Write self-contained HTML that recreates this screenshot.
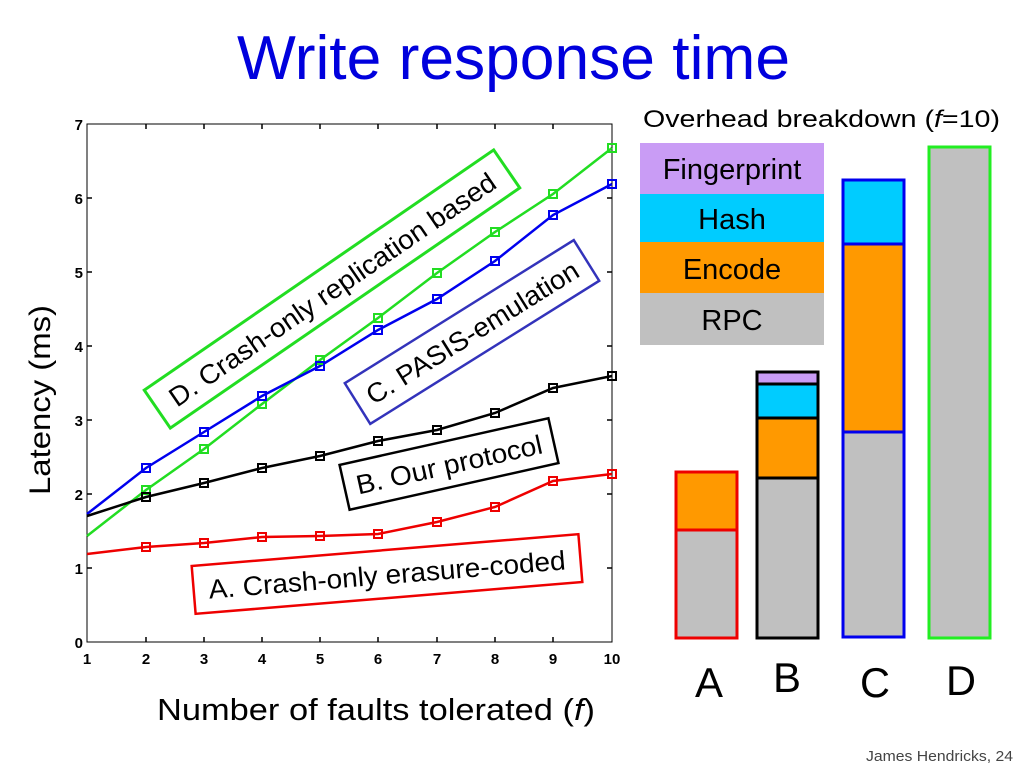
<!DOCTYPE html>
<html><head><meta charset="utf-8"><style>
html,body{margin:0;padding:0;background:#fff;}
svg{display:block;font-family:"Liberation Sans",sans-serif;}
</style></head><body>
<svg width="1024" height="768" viewBox="0 0 1024 768" xmlns="http://www.w3.org/2000/svg">
<text x="237" y="79" font-size="62" fill="#0000dd" textLength="553" lengthAdjust="spacingAndGlyphs">Write response time</text>
<text x="643" y="127" font-size="24" fill="#000" textLength="357" lengthAdjust="spacingAndGlyphs">Overhead breakdown (<tspan font-style="italic">f</tspan>=10)</text>

<!-- axes -->
<rect x="87" y="124" width="525" height="518" fill="none" stroke="#000" stroke-width="1"/>
<g stroke="#000" stroke-width="1.5">
<line x1="146" y1="124" x2="146" y2="129"/><line x1="204" y1="124" x2="204" y2="129"/><line x1="262" y1="124" x2="262" y2="129"/><line x1="320" y1="124" x2="320" y2="129"/><line x1="378" y1="124" x2="378" y2="129"/><line x1="437" y1="124" x2="437" y2="129"/><line x1="495" y1="124" x2="495" y2="129"/><line x1="553" y1="124" x2="553" y2="129"/>
<line x1="146" y1="642" x2="146" y2="637"/><line x1="204" y1="642" x2="204" y2="637"/><line x1="262" y1="642" x2="262" y2="637"/><line x1="320" y1="642" x2="320" y2="637"/><line x1="378" y1="642" x2="378" y2="637"/><line x1="437" y1="642" x2="437" y2="637"/><line x1="495" y1="642" x2="495" y2="637"/><line x1="553" y1="642" x2="553" y2="637"/>
<line x1="87" y1="568" x2="92" y2="568"/><line x1="87" y1="494" x2="92" y2="494"/><line x1="87" y1="420" x2="92" y2="420"/><line x1="87" y1="346" x2="92" y2="346"/><line x1="87" y1="272" x2="92" y2="272"/><line x1="87" y1="198" x2="92" y2="198"/>
<line x1="612" y1="568" x2="607" y2="568"/><line x1="612" y1="494" x2="607" y2="494"/><line x1="612" y1="420" x2="607" y2="420"/><line x1="612" y1="346" x2="607" y2="346"/><line x1="612" y1="272" x2="607" y2="272"/><line x1="612" y1="198" x2="607" y2="198"/>
</g>
<g font-size="15" font-weight="bold" fill="#000" text-anchor="middle">
<text x="87" y="664">1</text><text x="146" y="664">2</text><text x="204" y="664">3</text><text x="262" y="664">4</text><text x="320" y="664">5</text><text x="378" y="664">6</text><text x="437" y="664">7</text><text x="495" y="664">8</text><text x="553" y="664">9</text><text x="612" y="664">10</text>
</g>
<g font-size="15" font-weight="bold" fill="#000" text-anchor="end">
<text x="83" y="648">0</text><text x="83" y="574">1</text><text x="83" y="500">2</text><text x="83" y="426">3</text><text x="83" y="352">4</text><text x="83" y="278">5</text><text x="83" y="204">6</text><text x="83" y="130">7</text>
</g>

<!-- series -->
<g fill="none" stroke-width="2.5">
<polyline stroke="#22dd22" points="87,536 146,490 204,449 262,404 320,360 378,318 437,273 495,232 553,194 612,148"/>
<polyline stroke="#0000ee" points="87,514 146,468 204,432 262,396 320,366 378,330 437,299 495,261 553,215 612,184"/>
<polyline stroke="#000" points="87,516 146,497 204,483 262,468 320,456 378,441 437,430 495,413 553,388 612,376"/>
<polyline stroke="#ee0000" points="87,554 146,547 204,543 262,537 320,536 378,534 437,522 495,507 553,481 612,474"/>
</g>
<g fill="none" stroke-width="2">
<g stroke="#22dd22"><rect x="142" y="486" width="8" height="8"/><rect x="200" y="445" width="8" height="8"/><rect x="258" y="400" width="8" height="8"/><rect x="316" y="356" width="8" height="8"/><rect x="374" y="314" width="8" height="8"/><rect x="433" y="269" width="8" height="8"/><rect x="491" y="228" width="8" height="8"/><rect x="549" y="190" width="8" height="8"/><rect x="608" y="144" width="8" height="8"/></g>
<g stroke="#0000ee"><rect x="142" y="464" width="8" height="8"/><rect x="200" y="428" width="8" height="8"/><rect x="258" y="392" width="8" height="8"/><rect x="316" y="362" width="8" height="8"/><rect x="374" y="326" width="8" height="8"/><rect x="433" y="295" width="8" height="8"/><rect x="491" y="257" width="8" height="8"/><rect x="549" y="211" width="8" height="8"/><rect x="608" y="180" width="8" height="8"/></g>
<g stroke="#000"><rect x="142" y="493" width="8" height="8"/><rect x="200" y="479" width="8" height="8"/><rect x="258" y="464" width="8" height="8"/><rect x="316" y="452" width="8" height="8"/><rect x="374" y="437" width="8" height="8"/><rect x="433" y="426" width="8" height="8"/><rect x="491" y="409" width="8" height="8"/><rect x="549" y="384" width="8" height="8"/><rect x="608" y="372" width="8" height="8"/></g>
<g stroke="#ee0000"><rect x="142" y="543" width="8" height="8"/><rect x="200" y="539" width="8" height="8"/><rect x="258" y="533" width="8" height="8"/><rect x="316" y="532" width="8" height="8"/><rect x="374" y="530" width="8" height="8"/><rect x="433" y="518" width="8" height="8"/><rect x="491" y="503" width="8" height="8"/><rect x="549" y="477" width="8" height="8"/><rect x="608" y="470" width="8" height="8"/></g>
</g>

<!-- label boxes -->
<g transform="translate(332,289) rotate(-34.5)">
<rect x="-212" y="-23" width="424" height="46" fill="#fff" stroke="#22dd22" stroke-width="3"/>
<text x="0" y="10" font-size="27" text-anchor="middle" textLength="390" lengthAdjust="spacingAndGlyphs">D. Crash-only replication based</text>
</g>
<g transform="translate(472,332) rotate(-32)">
<rect x="-135" y="-24" width="270" height="48" fill="#fff" stroke="#3333bb" stroke-width="2.5"/>
<text x="0" y="10" font-size="27" text-anchor="middle" textLength="245" lengthAdjust="spacingAndGlyphs">C. PASIS-emulation</text>
</g>
<g transform="translate(449,464) rotate(-12.6)">
<rect x="-107" y="-23" width="214" height="46" fill="#fff" stroke="#000" stroke-width="2.5"/>
<text x="0" y="10" font-size="27" text-anchor="middle" textLength="190" lengthAdjust="spacingAndGlyphs">B. Our protocol</text>
</g>
<g transform="translate(387,574) rotate(-4.7)">
<rect x="-194" y="-24" width="388" height="48" fill="#fff" stroke="#ee0000" stroke-width="2.5"/>
<text x="0" y="10" font-size="27" text-anchor="middle" textLength="358" lengthAdjust="spacingAndGlyphs">A. Crash-only erasure-coded</text>
</g>

<text transform="translate(50,400) rotate(-90)" font-size="30" text-anchor="middle" textLength="190" lengthAdjust="spacingAndGlyphs">Latency (ms)</text>
<text x="157" y="720" font-size="31" textLength="438" lengthAdjust="spacingAndGlyphs">Number of faults tolerated (<tspan font-style="italic">f</tspan>)</text>

<!-- legend -->
<rect x="640" y="143" width="184" height="51" fill="#c99cf5"/>
<rect x="640" y="194" width="184" height="48" fill="#00ccff"/>
<rect x="640" y="242" width="184" height="51" fill="#ff9900"/>
<rect x="640" y="293" width="184" height="52" fill="#c0c0c0"/>
<g font-size="29" text-anchor="middle" fill="#000">
<text x="732" y="179">Fingerprint</text><text x="732" y="229">Hash</text><text x="732" y="279">Encode</text><text x="732" y="330">RPC</text>
</g>

<!-- bars -->
<rect x="676" y="472" width="61" height="166" fill="#c0c0c0" stroke="#ee0000" stroke-width="3"/>
<rect x="676" y="472" width="61" height="58" fill="#ff9900" stroke="#ee0000" stroke-width="3"/>

<rect x="757" y="372" width="61" height="266" fill="#c0c0c0" stroke="#000" stroke-width="3"/>
<rect x="757" y="418" width="61" height="60" fill="#ff9900" stroke="#000" stroke-width="3"/>
<rect x="757" y="384" width="61" height="34" fill="#00ccff" stroke="#000" stroke-width="3"/>
<rect x="757" y="372" width="61" height="12" fill="#c99cf5" stroke="#000" stroke-width="3"/>

<rect x="843" y="180" width="61" height="457" fill="#c0c0c0" stroke="#0000ee" stroke-width="3"/>
<rect x="843" y="244" width="61" height="188" fill="#ff9900" stroke="#0000ee" stroke-width="3"/>
<rect x="843" y="180" width="61" height="64" fill="#00ccff" stroke="#0000ee" stroke-width="3"/>

<rect x="929" y="147" width="61" height="491" fill="#c0c0c0" stroke="#22ee22" stroke-width="3"/>

<g font-size="42" text-anchor="middle" fill="#000">
<text x="709" y="697" textLength="28" lengthAdjust="spacingAndGlyphs">A</text>
<text x="787" y="692" textLength="28" lengthAdjust="spacingAndGlyphs">B</text>
<text x="875" y="697" textLength="30" lengthAdjust="spacingAndGlyphs">C</text>
<text x="961" y="695" textLength="30" lengthAdjust="spacingAndGlyphs">D</text>
</g>
<text x="1013" y="761" font-size="15" fill="#444" text-anchor="end" textLength="147" lengthAdjust="spacingAndGlyphs">James Hendricks, 24</text>
</svg>
</body></html>
